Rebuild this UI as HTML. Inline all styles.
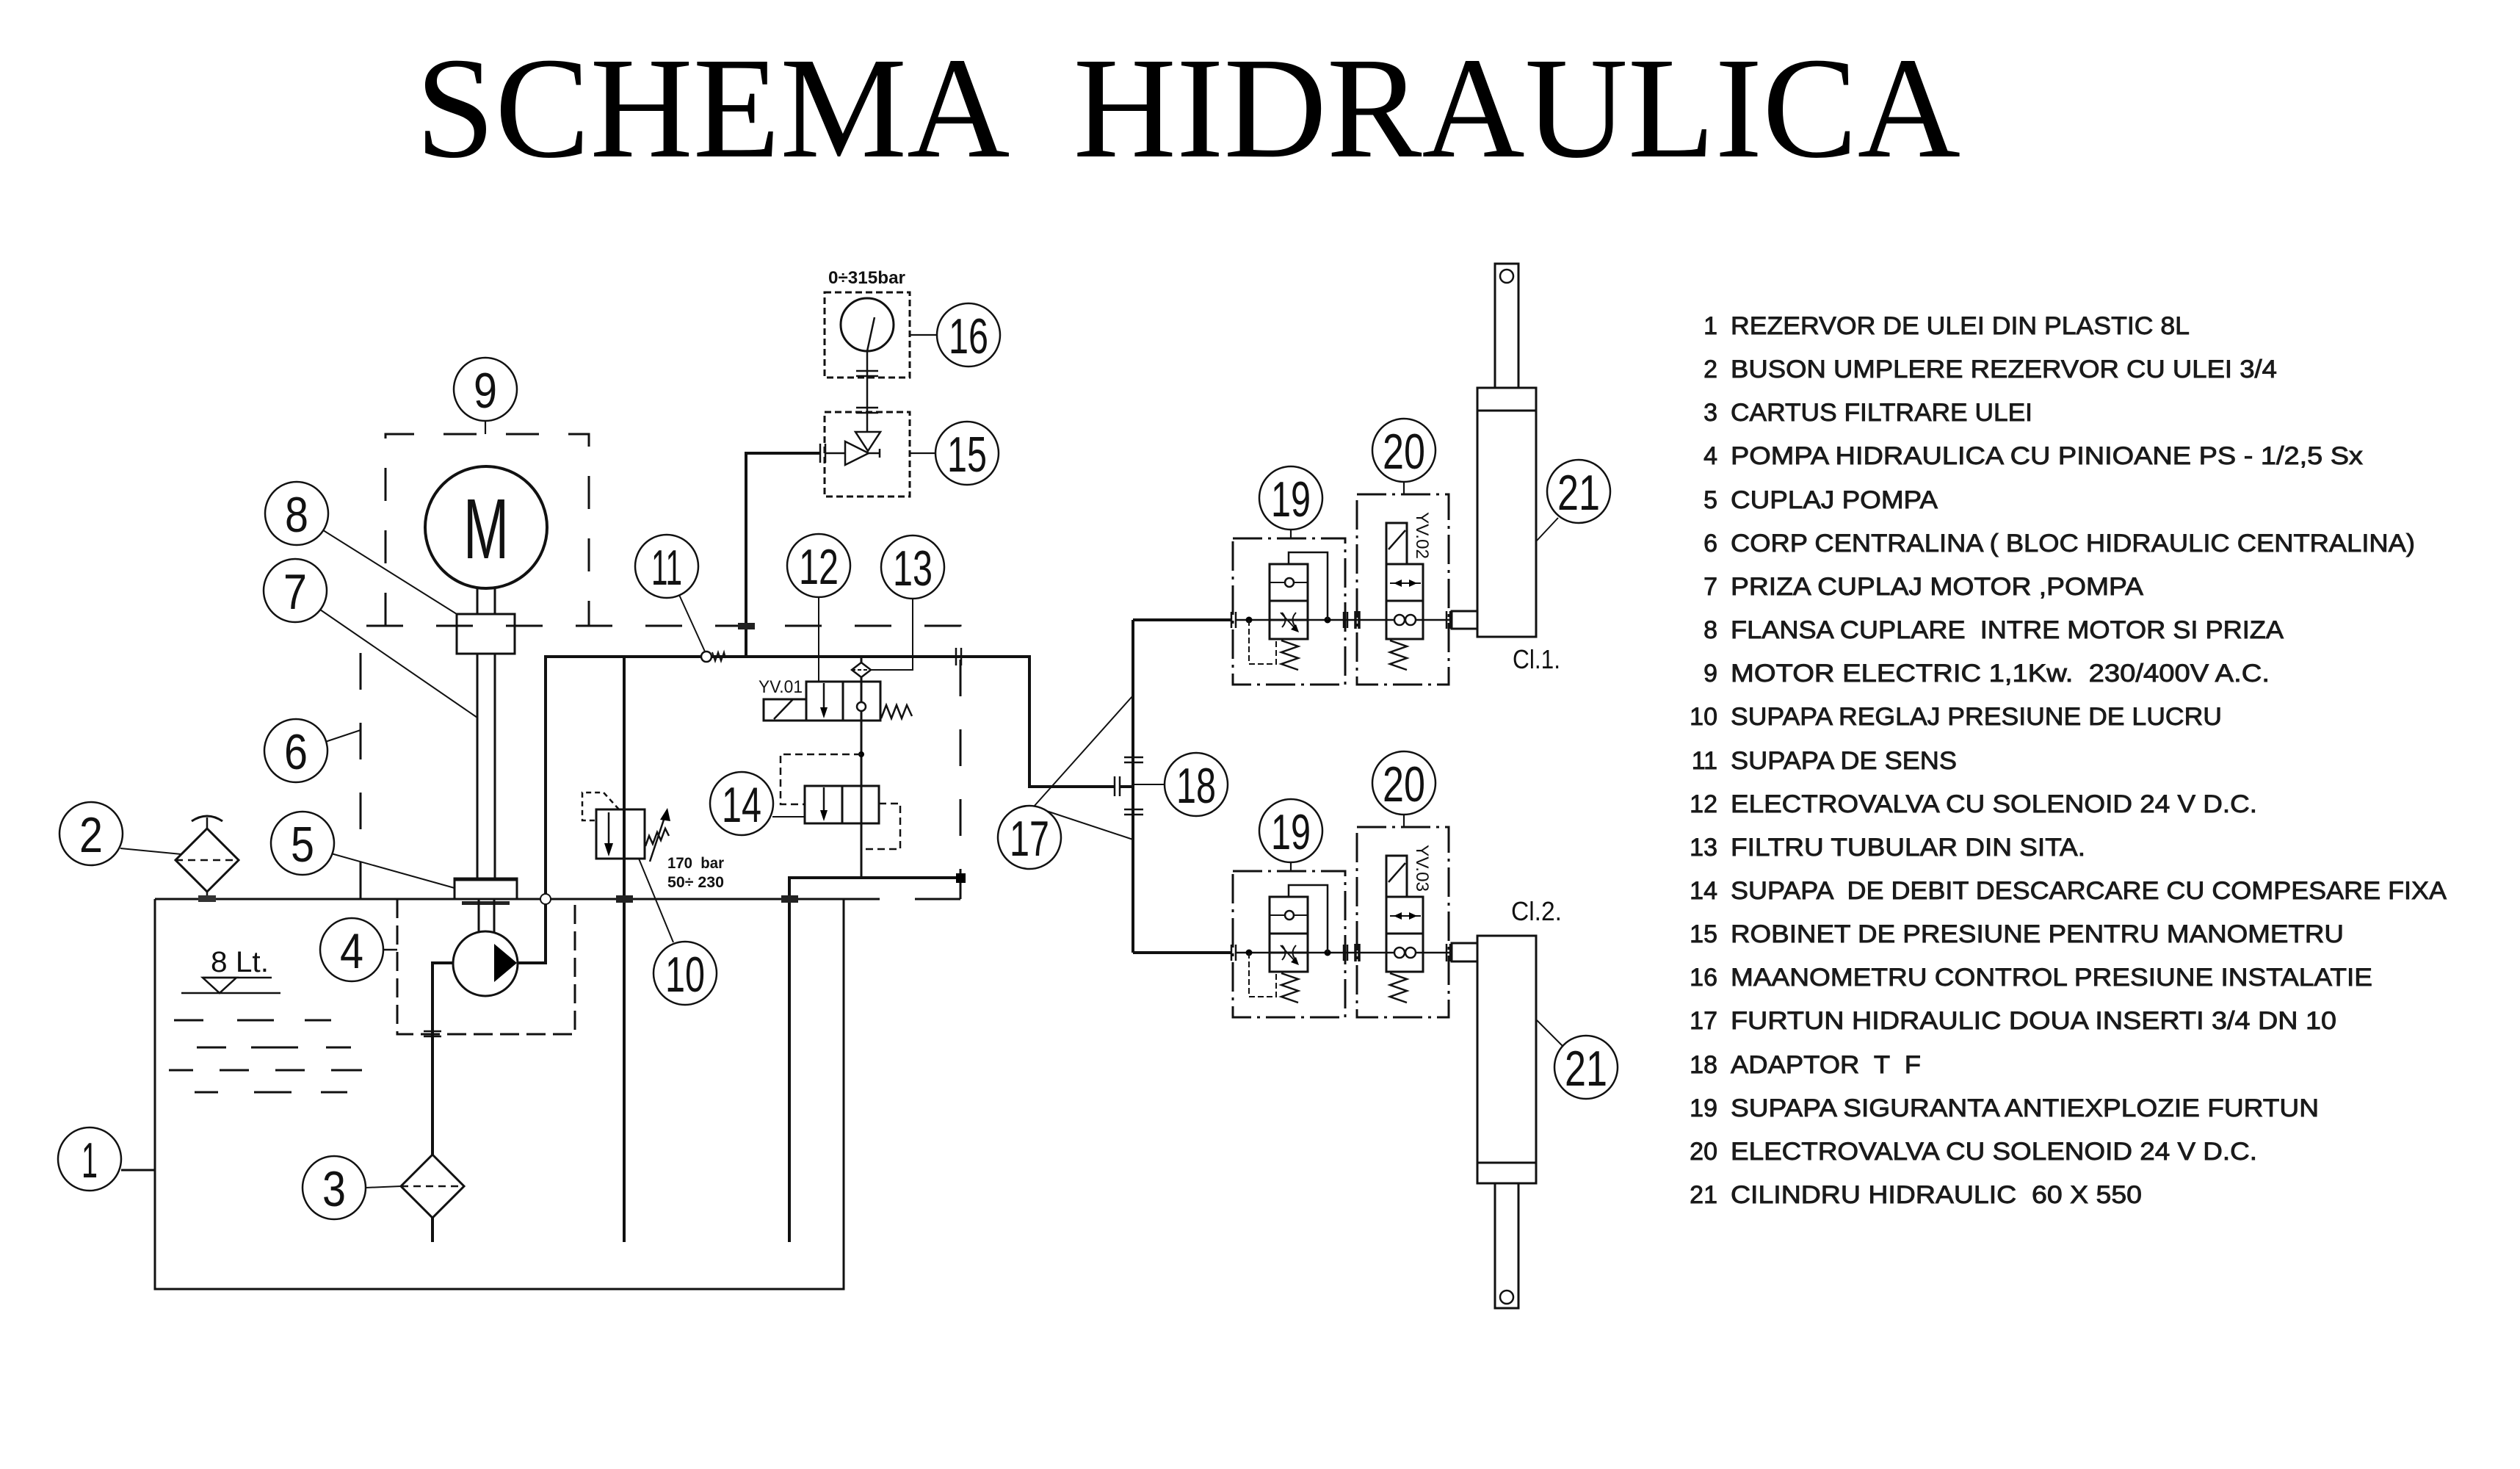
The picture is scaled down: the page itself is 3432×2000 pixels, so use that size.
<!DOCTYPE html>
<html><head><meta charset="utf-8">
<style>
html,body{margin:0;padding:0;background:#fff;}
svg{display:block;}
text{white-space:pre;}
</style></head><body>
<svg width="3432" height="2000" viewBox="0 0 3432 2000" xmlns="http://www.w3.org/2000/svg">
<rect width="3432" height="2000" fill="#fff"/>

<!-- Title -->
<text x="566" y="213" font-family="Liberation Serif, serif" font-size="197" textLength="2104" lengthAdjust="spacingAndGlyphs" fill="#000">SCHEMA  HIDRAULICA</text>

<g fill="none" stroke="#111" stroke-linecap="butt">
<!-- Tank -->
<path d="M211 1224 V1755 H1149 V1224" stroke-width="3"/>
<line x1="211" y1="1224" x2="1198" y2="1224" stroke-width="3"/>
<line x1="1246" y1="1224" x2="1308" y2="1224" stroke-width="3"/>

<!-- Box 6 -->
<path d="M491 1224 V852 H1308 V1224" stroke-width="3" stroke-dasharray="50 45"/>
<!-- Motor box 9 -->
<path d="M525 852 V591 H802 V852" stroke-width="3" stroke-dasharray="45 40"/>
<line x1="661" y1="572" x2="661" y2="591" stroke-width="2.2"/>

<!-- Motor -->
<circle cx="662" cy="718" r="83" stroke-width="4"/>
<!-- shaft -->
<line x1="650" y1="801" x2="650" y2="836" stroke-width="3"/>
<line x1="674" y1="801" x2="674" y2="836" stroke-width="3"/>
<rect x="622" y="836" width="79" height="54" stroke-width="3"/>
<line x1="650" y1="890" x2="650" y2="1196" stroke-width="3"/>
<line x1="674" y1="890" x2="674" y2="1196" stroke-width="3"/>
<rect x="619" y="1196" width="85" height="28" stroke-width="3"/>
<line x1="619" y1="1197" x2="704" y2="1197" stroke-width="5"/>
<rect x="629" y="1227" width="65" height="5" fill="#222" stroke="none"/>
<line x1="652" y1="1224" x2="652" y2="1270" stroke-width="3"/>
<line x1="673" y1="1224" x2="673" y2="1270" stroke-width="3"/>

<!-- Pump -->
<circle cx="661" cy="1312" r="44" stroke-width="3" fill="#fff"/>
<polygon points="673,1285 673,1337 704,1311" fill="#000" stroke="none"/>
<polyline points="705,1311 743,1311 743,894 1402,894 1402,1071 1518,1071" stroke-width="4"/>
<circle cx="743" cy="1224" r="7" stroke-width="2" fill="#fff"/>
<polyline points="617,1311 589,1311 589,1572" stroke-width="4"/>
<line x1="589" y1="1658" x2="589" y2="1691" stroke-width="4"/>
<line x1="577" y1="1404" x2="601" y2="1404" stroke-width="2.5"/>
<line x1="577" y1="1411" x2="601" y2="1411" stroke-width="2.5"/>
<path d="M541 1224 V1408 H783 V1224" stroke-width="3" stroke-dasharray="26 10"/>

<!-- Filter 3 -->
<polygon points="589,1572 632,1615 589,1658 546,1615" stroke-width="3" fill="#fff"/>
<line x1="546" y1="1615" x2="632" y2="1615" stroke-width="2.5" stroke-dasharray="10 7"/>
<!-- Filter 2 -->
<polygon points="282,1128 325,1171 282,1214 239,1171" stroke-width="3"/>
<line x1="239" y1="1171" x2="325" y2="1171" stroke-width="2.5" stroke-dasharray="10 7"/>
<line x1="282" y1="1128" x2="282" y2="1113" stroke-width="2.5"/>
<path d="M261 1118 Q282 1104 303 1118" stroke-width="3"/>
<line x1="282" y1="1214" x2="282" y2="1224" stroke-width="2.5"/>
<rect x="270" y="1219" width="24" height="9" fill="#333" stroke="none"/>

<!-- Level symbol -->
<line x1="276" y1="1331" x2="370" y2="1331" stroke-width="2.5"/>
<polygon points="276,1331 322,1331 299,1352" stroke-width="2.5"/>
<line x1="247" y1="1352" x2="382" y2="1352" stroke-width="2.5"/>
<g stroke-width="3">
<line x1="237" y1="1389" x2="277" y2="1389"/><line x1="323" y1="1389" x2="373" y2="1389"/><line x1="415" y1="1389" x2="451" y2="1389"/>
<line x1="268" y1="1426" x2="308" y2="1426"/><line x1="342" y1="1426" x2="406" y2="1426"/><line x1="444" y1="1426" x2="478" y2="1426"/>
<line x1="230" y1="1457" x2="263" y2="1457"/><line x1="299" y1="1457" x2="339" y2="1457"/><line x1="375" y1="1457" x2="415" y2="1457"/><line x1="451" y1="1457" x2="493" y2="1457"/>
<line x1="265" y1="1487" x2="297" y2="1487"/><line x1="346" y1="1487" x2="397" y2="1487"/><line x1="437" y1="1487" x2="473" y2="1487"/>
</g>

<!-- Return lines -->
<line x1="850" y1="894" x2="850" y2="1691" stroke-width="4"/>
<line x1="1075" y1="1193" x2="1075" y2="1691" stroke-width="4"/>
<rect x="839" y="1219" width="23" height="10" fill="#222" stroke="none"/>
<rect x="1064" y="1219" width="23" height="10" fill="#222" stroke="none"/>
<line x1="1075" y1="1195" x2="1308" y2="1195" stroke-width="4"/>
<rect x="1302" y="1189" width="13" height="13" fill="#000" stroke="none"/>
<line x1="1173" y1="922" x2="1173" y2="1195" stroke-width="3"/>
<circle cx="1173" cy="1027" r="4" fill="#000" stroke="none"/>

<!-- Valve 10 -->
<rect x="812" y="1102" width="66" height="67" stroke-width="3" fill="#fff"/>
<line x1="850" y1="1102" x2="850" y2="1169" stroke-width="4"/>
<line x1="829" y1="1106" x2="829" y2="1150" stroke-width="2.5"/>
<polygon points="823,1148 835,1148 829,1166" fill="#000" stroke="none"/>
<polyline points="843,1102 822,1079 793,1079 793,1117 812,1117" stroke-width="2.5" stroke-dasharray="7 5"/>
<polyline points="879,1152 884,1138 889,1149 895,1133 900,1144 906,1128 911,1138" stroke-width="2.5"/>
<line x1="885" y1="1173" x2="906" y2="1110" stroke-width="2.5"/>
<polygon points="909,1100 899,1116 913,1118" fill="#000" stroke="none"/>

<!-- Check valve 11 -->
<circle cx="962" cy="894" r="7" stroke-width="2.5" fill="#fff"/>
<polyline points="970,888 974,900 978,888 982,900 986,888 988,896" stroke-width="2"/>

<!-- Gauge line -->
<polyline points="1016,894 1016,617 1117,617" stroke-width="4"/>
<rect x="1005" y="848" width="23" height="9" fill="#222" stroke="none"/>
<line x1="1117" y1="604" x2="1117" y2="630" stroke-width="2.5"/>
<line x1="1124" y1="604" x2="1124" y2="630" stroke-width="2.5"/>
<line x1="1124" y1="617" x2="1151" y2="617" stroke-width="2.5"/>
<!-- Box 15 -->
<rect x="1123" y="561" width="116" height="115" stroke-width="3" stroke-dasharray="9 5"/>
<polygon points="1151,601 1151,633 1183,617" stroke-width="2.5"/>
<polygon points="1165,588 1199,588 1182,614" stroke-width="2.5"/>
<line x1="1183" y1="617" x2="1198" y2="617" stroke-width="2.5"/>
<line x1="1198" y1="611" x2="1198" y2="623" stroke-width="2.5"/>
<line x1="1181" y1="588" x2="1181" y2="478" stroke-width="2.5"/>
<line x1="1166" y1="505" x2="1196" y2="505" stroke-width="2.5"/>
<line x1="1166" y1="512" x2="1196" y2="512" stroke-width="2.5"/>
<line x1="1166" y1="555" x2="1196" y2="555" stroke-width="2.5"/>
<line x1="1166" y1="562" x2="1196" y2="562" stroke-width="2.5"/>
<!-- Box 16 -->
<rect x="1123" y="398" width="116" height="116" stroke-width="3" stroke-dasharray="9 5"/>
<circle cx="1181" cy="442" r="36" stroke-width="3"/>
<line x1="1181" y1="478" x2="1191" y2="432" stroke-width="2.5"/>

<!-- Valve 12 -->
<line x1="1173" y1="894" x2="1173" y2="902" stroke-width="3"/>
<polygon points="1173,902 1186,912 1173,922 1160,912" stroke-width="2.5" fill="#fff"/>
<line x1="1160" y1="912" x2="1186" y2="912" stroke-width="2" stroke-dasharray="5 3"/>
<rect x="1098" y="928" width="101" height="53" stroke-width="3" fill="#fff"/>
<line x1="1148" y1="928" x2="1148" y2="981" stroke-width="3"/>
<line x1="1173" y1="928" x2="1173" y2="981" stroke-width="3"/>
<rect x="1040" y="952" width="58" height="29" stroke-width="3"/>
<line x1="1054" y1="979" x2="1080" y2="952" stroke-width="2.5"/>
<line x1="1122" y1="930" x2="1122" y2="965" stroke-width="2.5"/>
<polygon points="1117,963 1127,963 1122,978" fill="#000" stroke="none"/>
<circle cx="1173" cy="962" r="6" stroke-width="2.5" fill="#fff"/>
<polyline points="1200,978 1207,960 1214,978 1221,960 1228,978 1235,960 1242,975" stroke-width="2.5"/>
<line x1="1115" y1="813" x2="1115" y2="928" stroke-width="2"/>
<polyline points="1243,815 1243,912 1186,912" stroke-width="2"/>

<!-- Valve 14 -->
<rect x="1096" y="1070" width="101" height="51" stroke-width="3" fill="#fff"/>
<line x1="1147" y1="1070" x2="1147" y2="1121" stroke-width="3"/>
<line x1="1173" y1="1070" x2="1173" y2="1121" stroke-width="3"/>
<line x1="1122" y1="1072" x2="1122" y2="1105" stroke-width="2.5"/>
<polygon points="1117,1103 1127,1103 1122,1118" fill="#000" stroke="none"/>
<polyline points="1173,1027 1063,1027 1063,1095 1096,1095" stroke-width="2.5" stroke-dasharray="10 6"/>
<polyline points="1197,1094 1226,1094 1226,1156 1173,1156" stroke-width="2.5" stroke-dasharray="10 6"/>
<line x1="1052" y1="1112" x2="1096" y2="1112" stroke-width="2"/>

<!-- tick on main line at box 6 right side -->
<line x1="1302" y1="882" x2="1302" y2="906" stroke-width="2.5"/>
<line x1="1309" y1="882" x2="1309" y2="906" stroke-width="2.5"/>

<!-- Manifold / adapter 18 -->
<line x1="1518" y1="1057" x2="1518" y2="1084" stroke-width="2.5"/>
<line x1="1525" y1="1057" x2="1525" y2="1084" stroke-width="2.5"/>
<line x1="1525" y1="1071" x2="1543" y2="1071" stroke-width="4"/>
<line x1="1543" y1="844" x2="1543" y2="1297" stroke-width="4"/>
<line x1="1531" y1="1031" x2="1557" y2="1031" stroke-width="2.5"/>
<line x1="1531" y1="1038" x2="1557" y2="1038" stroke-width="2.5"/>
<line x1="1531" y1="1102" x2="1557" y2="1102" stroke-width="2.5"/>
<line x1="1531" y1="1109" x2="1557" y2="1109" stroke-width="2.5"/>
<line x1="1543" y1="1068" x2="1586" y2="1068" stroke-width="2"/>
<line x1="1408" y1="1098" x2="1543" y2="947" stroke-width="2"/>
<line x1="1416" y1="1101" x2="1543" y2="1143" stroke-width="2"/>
<line x1="1543" y1="844" x2="1677" y2="844" stroke-width="4"/>
<line x1="1543" y1="1297" x2="1677" y2="1297" stroke-width="4"/>

<!-- Leaders left -->
<line x1="165" y1="1593" x2="211" y2="1593" stroke-width="3"/>
<line x1="164" y1="1155" x2="247" y2="1163" stroke-width="2"/>
<line x1="498" y1="1617" x2="546" y2="1615" stroke-width="2"/>
<line x1="522" y1="1293" x2="541" y2="1293" stroke-width="2.5"/>
<line x1="451" y1="1162" x2="619" y2="1209" stroke-width="2"/>
<line x1="443" y1="1010" x2="491" y2="994" stroke-width="2"/>
<line x1="436" y1="830" x2="650" y2="977" stroke-width="2"/>
<line x1="437" y1="720" x2="622" y2="836" stroke-width="2"/>
<line x1="870" y1="1169" x2="917" y2="1283" stroke-width="2"/>
<line x1="925" y1="810" x2="960" y2="887" stroke-width="2"/>
</g>

<!-- Valve pair 19/20 -->
<defs>
<g id="vp" fill="none" stroke="#111">
<line x1="1677" y1="833" x2="1677" y2="855" stroke-width="2.5"/>
<line x1="1683" y1="833" x2="1683" y2="855" stroke-width="2.5"/>
<line x1="1683" y1="844" x2="1977" y2="844" stroke-width="2.5"/>
<circle cx="1701" cy="844" r="4.5" fill="#000" stroke="none"/>
<circle cx="1808" cy="844" r="4.5" fill="#000" stroke="none"/>
<rect x="1679" y="733" width="153" height="199" stroke-width="3" stroke-dasharray="40 8 4 8"/>
<line x1="1758" y1="721" x2="1758" y2="733" stroke-width="2.2"/>
<rect x="1729" y="768" width="52" height="102" stroke-width="3" fill="#fff"/>
<line x1="1729" y1="818" x2="1781" y2="818" stroke-width="3"/>
<line x1="1729" y1="793" x2="1781" y2="793" stroke-width="2"/>
<circle cx="1756" cy="793" r="6" stroke-width="2.5" fill="#fff"/>
<line x1="1729" y1="844" x2="1781" y2="844" stroke-width="3"/>
<path d="M1746 834 Q1755 844 1746 854 M1765 834 Q1756 844 1765 854" stroke-width="2"/>
<line x1="1744" y1="834" x2="1766" y2="858" stroke-width="2"/>
<polygon points="1769,861 1758,857 1765,850" fill="#000" stroke="none"/>
<polyline points="1755,768 1755,752 1808,752 1808,844" stroke-width="2.5"/>
<polyline points="1701,844 1701,904 1738,904 1738,870" stroke-width="2" stroke-dasharray="8 4"/>
<polyline points="1745,872 1768,880 1745,888 1768,896 1745,904 1768,912" stroke-width="2.5"/>
<line x1="1830" y1="833" x2="1830" y2="855" stroke-width="2.5"/>
<line x1="1835" y1="833" x2="1835" y2="855" stroke-width="2.5"/>
<line x1="1846" y1="832" x2="1846" y2="856" stroke-width="3.5"/>
<line x1="1851" y1="832" x2="1851" y2="856" stroke-width="3.5"/>
<rect x="1848" y="673" width="125" height="259" stroke-width="3" stroke-dasharray="40 8 4 8"/>
<line x1="1912" y1="656" x2="1912" y2="673" stroke-width="2.2"/>
<rect x="1888" y="768" width="50" height="102" stroke-width="3" fill="#fff"/>
<line x1="1888" y1="818" x2="1938" y2="818" stroke-width="3"/>
<rect x="1888" y="712" width="28" height="56" stroke-width="3"/>
<line x1="1891" y1="748" x2="1914" y2="722" stroke-width="2.5"/>
<line x1="1893" y1="794" x2="1935" y2="794" stroke-width="2"/>
<polygon points="1898,794 1909,789 1909,799" fill="#000" stroke="none"/>
<polygon points="1930,794 1919,789 1919,799" fill="#000" stroke="none"/>
<line x1="1888" y1="844" x2="1938" y2="844" stroke-width="2.5"/>
<circle cx="1906" cy="844" r="7" stroke-width="2.5" fill="#fff"/>
<circle cx="1921" cy="844" r="7" stroke-width="2.5" fill="#fff"/>
<polyline points="1893,872 1916,880 1893,888 1916,896 1893,904 1916,912" stroke-width="2.5"/>
<line x1="1970" y1="832" x2="1970" y2="856" stroke-width="2.5"/>
<line x1="1975" y1="832" x2="1975" y2="856" stroke-width="2.5"/>
</g>
</defs>
<use href="#vp"/>
<use href="#vp" transform="translate(0,453)"/>

<!-- Cylinders -->
<g fill="none" stroke="#111" stroke-width="3">
<rect x="2036" y="359" width="32" height="169"/>
<circle cx="2052" cy="376" r="9" stroke-width="2.5"/>
<rect x="2012" y="528" width="80" height="339"/>
<line x1="2012" y1="559" x2="2092" y2="559"/>
<rect x="1977" y="832" width="35" height="24"/>
<line x1="2093" y1="736" x2="2122" y2="705" stroke-width="2"/>

<rect x="1977" y="1284" width="35" height="25"/>
<rect x="2012" y="1274" width="80" height="337"/>
<line x1="2012" y1="1583" x2="2092" y2="1583"/>
<rect x="2036" y="1611" width="32" height="170"/>
<circle cx="2052" cy="1766" r="9" stroke-width="2.5"/>
<line x1="2093" y1="1389" x2="2129" y2="1425" stroke-width="2"/>
</g>

<!-- Label circles -->
<g fill="#fff" stroke="#111" stroke-width="2.5">
<circle cx="122" cy="1578" r="43"/>
<circle cx="124" cy="1135" r="43"/>
<circle cx="455" cy="1617" r="43"/>
<circle cx="479" cy="1293" r="43"/>
<circle cx="412" cy="1148" r="43"/>
<circle cx="403" cy="1022" r="43"/>
<circle cx="402" cy="804" r="43"/>
<circle cx="404" cy="699" r="43"/>
<circle cx="661" cy="530" r="43"/>
<circle cx="933" cy="1325" r="43"/>
<circle cx="908" cy="771" r="43"/>
<circle cx="1115" cy="770" r="43"/>
<circle cx="1243" cy="772" r="43"/>
<circle cx="1010" cy="1094" r="43"/>
<circle cx="1317" cy="617" r="43"/>
<circle cx="1319" cy="456" r="43"/>
<circle cx="1402" cy="1140" r="43"/>
<circle cx="1629" cy="1068" r="43"/>
<circle cx="1758" cy="678" r="43"/>
<circle cx="1912" cy="613" r="43"/>
<circle cx="2150" cy="669" r="43"/>
<circle cx="1758" cy="1131" r="43"/>
<circle cx="1912" cy="1066" r="43"/>
<circle cx="2160" cy="1453" r="43"/>
</g>
<g stroke="#111" stroke-width="2.2">
<line x1="1239" y1="617" x2="1274" y2="617"/>
<line x1="1239" y1="456" x2="1276" y2="456"/>
</g>

<g font-family="Liberation Sans, sans-serif" font-size="68" fill="#111" text-anchor="middle" lengthAdjust="spacingAndGlyphs">
<text x="122" y="1603" textLength="22" lengthAdjust="spacingAndGlyphs">1</text>
<text x="124" y="1160" textLength="32" lengthAdjust="spacingAndGlyphs">2</text>
<text x="455" y="1642" textLength="32" lengthAdjust="spacingAndGlyphs">3</text>
<text x="479" y="1318" textLength="32" lengthAdjust="spacingAndGlyphs">4</text>
<text x="412" y="1173" textLength="32" lengthAdjust="spacingAndGlyphs">5</text>
<text x="403" y="1047" textLength="32" lengthAdjust="spacingAndGlyphs">6</text>
<text x="402" y="829" textLength="32" lengthAdjust="spacingAndGlyphs">7</text>
<text x="404" y="724" textLength="32" lengthAdjust="spacingAndGlyphs">8</text>
<text x="661" y="555" textLength="32" lengthAdjust="spacingAndGlyphs">9</text>
<text x="933" y="1350" textLength="54" lengthAdjust="spacingAndGlyphs">10</text>
<text x="908" y="796" textLength="42" lengthAdjust="spacingAndGlyphs">11</text>
<text x="1115" y="795" textLength="54" lengthAdjust="spacingAndGlyphs">12</text>
<text x="1243" y="797" textLength="54" lengthAdjust="spacingAndGlyphs">13</text>
<text x="1010" y="1119" textLength="54" lengthAdjust="spacingAndGlyphs">14</text>
<text x="1317" y="642" textLength="54" lengthAdjust="spacingAndGlyphs">15</text>
<text x="1319" y="481" textLength="54" lengthAdjust="spacingAndGlyphs">16</text>
<text x="1402" y="1165" textLength="54" lengthAdjust="spacingAndGlyphs">17</text>
<text x="1629" y="1093" textLength="54" lengthAdjust="spacingAndGlyphs">18</text>
<text x="1758" y="703" textLength="54" lengthAdjust="spacingAndGlyphs">19</text>
<text x="1912" y="638" textLength="58" lengthAdjust="spacingAndGlyphs">20</text>
<text x="2150" y="694" textLength="58" lengthAdjust="spacingAndGlyphs">21</text>
<text x="1758" y="1156" textLength="54" lengthAdjust="spacingAndGlyphs">19</text>
<text x="1912" y="1091" textLength="58" lengthAdjust="spacingAndGlyphs">20</text>
<text x="2160" y="1478" textLength="58" lengthAdjust="spacingAndGlyphs">21</text>
</g>

<!-- Small labels -->
<g font-family="Liberation Sans, sans-serif" fill="#111">
<text x="662" y="760" font-size="116" text-anchor="middle" textLength="62" lengthAdjust="spacingAndGlyphs">M</text>
<text x="287" y="1323" font-size="40" textLength="79" lengthAdjust="spacingAndGlyphs">8 Lt.</text>
<text x="1128" y="386" font-size="24" font-weight="bold" textLength="105" lengthAdjust="spacingAndGlyphs">0÷315bar</text>
<text x="909" y="1182" font-size="21" font-weight="bold" textLength="77" lengthAdjust="spacingAndGlyphs">170  bar</text>
<text x="909" y="1208" font-size="21" font-weight="bold" textLength="77" lengthAdjust="spacingAndGlyphs">50÷ 230</text>
<text x="1033" y="943" font-size="24" textLength="60" lengthAdjust="spacingAndGlyphs">YV.01</text>
<text transform="translate(1929,697) rotate(90)" font-size="24" textLength="64" lengthAdjust="spacingAndGlyphs">YV.02</text>
<text transform="translate(1929,1150) rotate(90)" font-size="24" textLength="64" lengthAdjust="spacingAndGlyphs">YV.03</text>
<text x="2060" y="910" font-size="36" textLength="65" lengthAdjust="spacingAndGlyphs">Cl.1.</text>
<text x="2058" y="1253" font-size="36" textLength="69" lengthAdjust="spacingAndGlyphs">Cl.2.</text>
</g>

<!-- Legend -->
<g font-family="Liberation Sans, sans-serif" font-size="34" fill="#1a1a1a" stroke="#1a1a1a" stroke-width="0.9">
<g text-anchor="end">
<text x="2339" y="455">1</text>
<text x="2339" y="514">2</text>
<text x="2339" y="573">3</text>
<text x="2339" y="632">4</text>
<text x="2339" y="692">5</text>
<text x="2339" y="751">6</text>
<text x="2339" y="810">7</text>
<text x="2339" y="869">8</text>
<text x="2339" y="928">9</text>
<text x="2339" y="987">10</text>
<text x="2339" y="1047">11</text>
<text x="2339" y="1106">12</text>
<text x="2339" y="1165">13</text>
<text x="2339" y="1224">14</text>
<text x="2339" y="1283">15</text>
<text x="2339" y="1342">16</text>
<text x="2339" y="1401">17</text>
<text x="2339" y="1461">18</text>
<text x="2339" y="1520">19</text>
<text x="2339" y="1579">20</text>
<text x="2339" y="1638">21</text>
</g>
<text x="2357" y="455" textLength="625" lengthAdjust="spacingAndGlyphs">REZERVOR DE ULEI DIN PLASTIC 8L</text>
<text x="2357" y="514" textLength="744" lengthAdjust="spacingAndGlyphs">BUSON UMPLERE REZERVOR CU ULEI 3/4</text>
<text x="2357" y="573" textLength="411" lengthAdjust="spacingAndGlyphs">CARTUS FILTRARE ULEI</text>
<text x="2357" y="632" textLength="861" lengthAdjust="spacingAndGlyphs">POMPA HIDRAULICA CU PINIOANE PS - 1/2,5 Sx</text>
<text x="2357" y="692" textLength="282" lengthAdjust="spacingAndGlyphs">CUPLAJ POMPA</text>
<text x="2357" y="751" textLength="932" lengthAdjust="spacingAndGlyphs">CORP CENTRALINA ( BLOC HIDRAULIC CENTRALINA)</text>
<text x="2357" y="810" textLength="562" lengthAdjust="spacingAndGlyphs">PRIZA CUPLAJ MOTOR ,POMPA</text>
<text x="2357" y="869" textLength="753" lengthAdjust="spacingAndGlyphs">FLANSA CUPLARE  INTRE MOTOR SI PRIZA</text>
<text x="2357" y="928" textLength="734" lengthAdjust="spacingAndGlyphs">MOTOR ELECTRIC 1,1Kw.  230/400V A.C.</text>
<text x="2357" y="987" textLength="669" lengthAdjust="spacingAndGlyphs">SUPAPA REGLAJ PRESIUNE DE LUCRU</text>
<text x="2357" y="1047" textLength="308" lengthAdjust="spacingAndGlyphs">SUPAPA DE SENS</text>
<text x="2357" y="1106" textLength="717" lengthAdjust="spacingAndGlyphs">ELECTROVALVA CU SOLENOID 24 V D.C.</text>
<text x="2357" y="1165" textLength="483" lengthAdjust="spacingAndGlyphs">FILTRU TUBULAR DIN SITA.</text>
<text x="2357" y="1224" textLength="975" lengthAdjust="spacingAndGlyphs">SUPAPA  DE DEBIT DESCARCARE CU COMPESARE FIXA</text>
<text x="2357" y="1283" textLength="835" lengthAdjust="spacingAndGlyphs">ROBINET DE PRESIUNE PENTRU MANOMETRU</text>
<text x="2357" y="1342" textLength="874" lengthAdjust="spacingAndGlyphs">MAANOMETRU CONTROL PRESIUNE INSTALATIE</text>
<text x="2357" y="1401" textLength="825" lengthAdjust="spacingAndGlyphs">FURTUN HIDRAULIC DOUA INSERTI 3/4 DN 10</text>
<text x="2357" y="1461" textLength="259" lengthAdjust="spacingAndGlyphs">ADAPTOR  T  F</text>
<text x="2357" y="1520" textLength="801" lengthAdjust="spacingAndGlyphs">SUPAPA SIGURANTA ANTIEXPLOZIE FURTUN</text>
<text x="2357" y="1579" textLength="717" lengthAdjust="spacingAndGlyphs">ELECTROVALVA CU SOLENOID 24 V D.C.</text>
<text x="2357" y="1638" textLength="560" lengthAdjust="spacingAndGlyphs">CILINDRU HIDRAULIC  60 X 550</text>
</g>
</svg>
</body></html>
